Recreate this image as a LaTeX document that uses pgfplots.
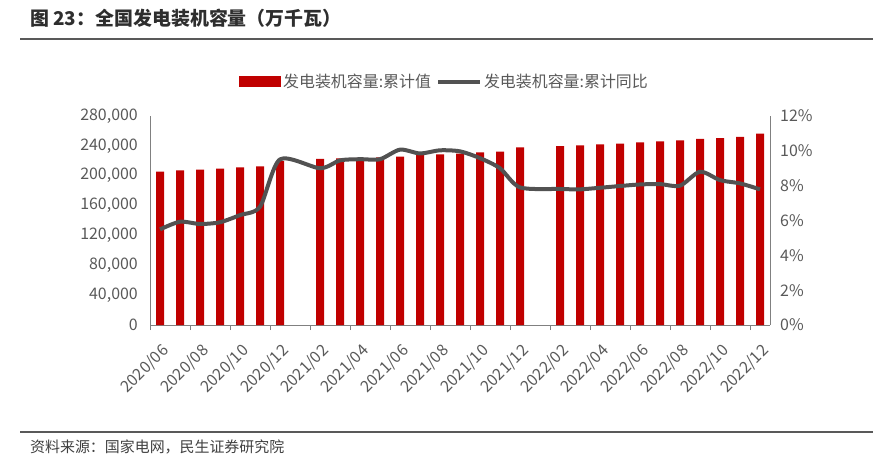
\documentclass[border=0pt]{standalone}
\usepackage{fontspec}
\setmainfont{Noto Sans CJK SC}
\usepackage{pgfplots}
\pgfplotsset{compat=1.18}
\definecolor{barred}{HTML}{C00000}
\definecolor{linegrey}{HTML}{525252}
\definecolor{txtgrey}{HTML}{595959}
\definecolor{axgrey}{HTML}{808080}
\begin{document}
\begin{tikzpicture}
\path[use as bounding box] (0bp,0bp) rectangle (891bp,-464bp);
\node[anchor=west, inner sep=0, font=\fontsize{19}{22}\selectfont\bfseries, text=black!82] at (30bp,-18bp) {图 23：全国发电装机容量（万千瓦）};
\draw[line width=2bp, color=black!65] (20bp,-38.5bp) -- (873bp,-38.5bp);
\draw[line width=2bp, color=black!65] (20bp,-431.5bp) -- (873bp,-431.5bp);
\node[anchor=west, inner sep=0, font=\fontsize{15}{18}\selectfont, text=black!75] at (30bp,-447bp) {资料来源：国家电网，民生证券研究院};

\begin{axis}[
  at={(150bp,-325bp)}, anchor=south west, scale only axis,
  width=620bp, height=209bp,
  xmin=-0.5, xmax=30.5, ymin=0, ymax=280000,
  axis x line*=bottom, axis y line*=left,
  axis line style={-, draw=axgrey, line width=0.8bp},
  tick align=outside,
  major tick length=0pt, minor tick length=5bp,
  tick style={draw=axgrey, line width=0.8bp},
  xtick={0,2,...,30},
  xticklabels={2020/06,2020/08,2020/10,2020/12,2021/02,2021/04,2021/06,2021/08,2021/10,2021/12,2022/02,2022/04,2022/06,2022/08,2022/10,2022/12},
  minor xtick={-0.5,1.5,...,29.5},
  ytick={0,40000,...,280000},
  yticklabels={0,{40,000},{80,000},{120,000},{160,000},{200,000},{240,000},{280,000}},
  scaled ticks=false,
  xticklabel style={font=\fontsize{16}{19}\selectfont, text=txtgrey, inner sep=0, xshift=6bp, yshift=-23bp, rotate=45, anchor=east},
  yticklabel style={font=\fontsize{16}{19}\selectfont, text=txtgrey, inner sep=0, anchor=east, xshift=-12bp},
  legend style={at={(0.475,1.163)}, anchor=center, draw=none, fill=none, legend columns=2,
    font=\fontsize{16}{19}\selectfont, text=txtgrey, inner sep=0, nodes={inner sep=2bp},
    /tikz/every even column/.append style={column sep=3bp}},
  clip=false,
]
\addplot[ybar, bar width=8bp, fill=barred, draw=none,
  legend image code/.code={\fill[barred] (0bp,-5.5bp) rectangle (42bp,5.5bp);}]
  coordinates {
  (0,205400) (1,207200) (2,208000) (3,209400) (4,211300) (5,212600) (6,219700)
  (8,222400) (9,223300) (10,224000) (11,224500) (12,225500) (13,227800) (14,228700) (15,229500)
  (16,231400) (17,232200) (18,238000)
  (20,239800) (21,240700) (22,242000) (23,243000) (24,244700) (25,246000) (26,247400)
  (27,249200) (28,250500) (29,251900) (30,256300)
  };
\addlegendentry{发电装机容量:累计值}
\addlegendimage{legend image code/.code={\draw[linegrey, line width=4bp] (0bp,0bp) -- (42bp,0bp);}}
\addlegendentry{发电装机容量:累计同比}
\end{axis}

\begin{axis}[
  at={(150bp,-325bp)}, anchor=south west, scale only axis,
  width=620bp, height=209bp,
  xmin=-0.5, xmax=30.5, ymin=0, ymax=12,
  axis x line=none, axis y line*=right,
  axis line style={-, draw=axgrey, line width=0.8bp},
  major tick length=0pt,
  ytick={0,2,...,12},
  yticklabels={0\%,2\%,4\%,6\%,8\%,10\%,12\%},
  yticklabel style={font=\fontsize{16}{19}\selectfont, text=txtgrey, inner sep=0, anchor=west, xshift=10bp},
  clip=false,
]
\addplot[linegrey, line width=4bp, smooth, tension=0.45] coordinates {
  (0,5.49) (1,5.93) (2,5.80) (3,5.90) (4,6.31) (5,6.79) (6,9.51)
  (8,9.00) (9,9.45) (10,9.52) (11,9.52) (12,10.07) (13,9.85) (14,10.03) (15,9.97)
  (16,9.58) (17,9.00) (18,7.90)
  (20,7.81) (21,7.79) (22,7.88) (23,7.98) (24,8.07) (25,8.09) (26,8.00)
  (27,8.80) (28,8.32) (29,8.13) (30,7.79)
};
\end{axis}
\end{tikzpicture}
\end{document}
